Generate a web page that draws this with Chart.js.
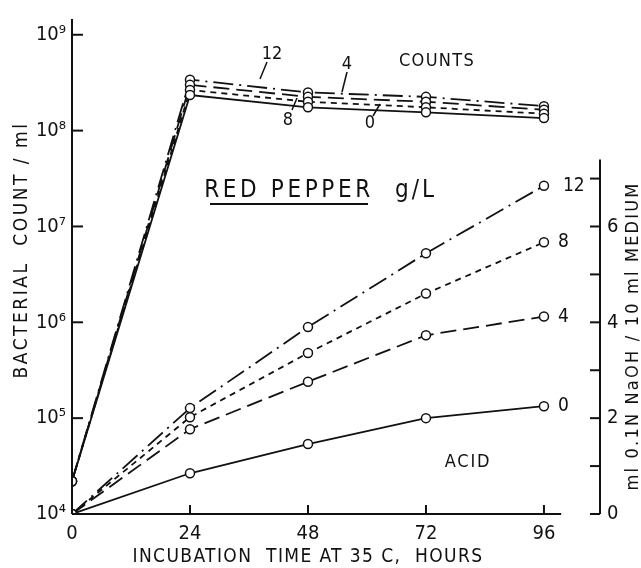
<!DOCTYPE html>
<html>
<head>
<meta charset="utf-8">
<script src="https://cdn.jsdelivr.net/npm/chart.js@4.4.1/dist/chart.umd.min.js"></script>
<style>
  html, body { margin: 0; padding: 0; background: #fff; }
</style>
</head>
<body>
<canvas id="pepperChart" width="641" height="568"></canvas>
<script>
// hours of incubation
var hours = [0, 24, 48, 72, 96];
var hourTicks = [0, 24, 48, 72, 96];

// bacterial counts per ml (left, log axis), one list per red pepper dose g/L
var counts0 = [2.2e4, 2.35e8, 1.75e8, 1.55e8, 1.35e8];
var counts4 = [2.2e4, 3.0e8, 2.25e8, 2.0e8, 1.65e8];
var counts8 = [2.2e4, 2.65e8, 2.0e8, 1.75e8, 1.5e8];
var counts12 = [2.2e4, 3.4e8, 2.5e8, 2.25e8, 1.8e8];

// acid, ml 0.1N NaOH / 10 ml medium (right axis)
var acid0 = [0, 0.85, 1.46, 2.0, 2.25];
var acid4 = [0, 1.77, 2.76, 3.73, 4.12];
var acid8 = [0, 2.02, 3.36, 4.6, 5.67];
var acid12 = [0, 2.21, 3.9, 5.44, 6.85];

var countTicks = [1e4, 1e5, 1e6, 1e7, 1e8, 1e9];
var countTickLabels = ['10\u2074', '10\u2075', '10\u2076', '10\u2077', '10\u2078', '10\u2079'];
var acidTicks = [0, 1, 2, 3, 4, 5, 6, 7];
var acidTickLabels = ['0', '', '2', '', '4', '', '6', ''];

var FONT = "'Liberation Sans Narrow', 'DejaVu Sans Condensed', 'Liberation Sans', sans-serif";
var INK = '#111';

// line style per dose
var dashes = { '0': [], '4': [16, 7], '8': [6, 5], '12': [20, 6, 2, 6] };

function pts(values) {
    return hours.map(function (h, i) { return { x: h, y: values[i] }; });
}

function series(label, values, axis) {
    return {
        label: label,
        data: pts(values),
        yAxisID: axis,
        borderColor: INK,
        borderWidth: 1.8,
        borderDash: dashes[label],
        backgroundColor: '#fff',
        pointRadius: 4.5,
        pointBorderWidth: 1.5,
        pointBorderColor: INK,
        pointBackgroundColor: '#fff',
        tension: 0,
        fill: false
    };
}

function drawText(ctx, str, x, y, size, spacing, rot) {
    ctx.save();
    ctx.translate(x, y);
    if (rot) ctx.rotate(rot);
    ctx.font = size + 'px ' + FONT;
    ctx.letterSpacing = (spacing || 0) + 'px';
    ctx.textAlign = 'center';
    ctx.textBaseline = 'middle';
    ctx.fillText(str, 0, 0);
    ctx.restore();
}

function line(ctx, x1, y1, x2, y2) {
    ctx.beginPath();
    ctx.moveTo(x1, y1);
    ctx.lineTo(x2, y2);
    ctx.stroke();
}

// axes, inward ticks and lettering of the original figure
var paperPlugin = {
    id: 'paper',
    afterDraw: function (chart) {
        var ctx = chart.ctx;
        var xs = chart.scales.x, ys = chart.scales.y, ys2 = chart.scales.y2;
        var area = chart.chartArea;
        var x0 = xs.getPixelForValue(0);
        var yb = ys.getPixelForValue(1e4);
        var xr = area.right;

        ctx.save();
        ctx.strokeStyle = INK;
        ctx.fillStyle = INK;
        ctx.lineWidth = 2;

        // left axis
        line(ctx, x0, area.top, x0, yb);
        countTicks.forEach(function (v) {
            var p = ys.getPixelForValue(v);
            line(ctx, x0, p, x0 + 11, p);
        });
        // bottom axis
        line(ctx, x0, yb, xs.getPixelForValue(99.5), yb);
        hourTicks.forEach(function (v) {
            var p = xs.getPixelForValue(v);
            line(ctx, p, yb, p, yb - 9);
        });
        // right axis
        line(ctx, xr, ys2.getPixelForValue(7.4), xr, ys2.getPixelForValue(0));
        acidTicks.forEach(function (v) {
            var p = ys2.getPixelForValue(v);
            line(ctx, xr, p, xr - 10, p);
        });

        // axis titles
        drawText(ctx, 'BACTERIAL  COUNT / ml', 22, 250, 19, 2.5, -Math.PI / 2);
        drawText(ctx, 'ml 0.1N NaOH / 10 ml MEDIUM', 633, 336, 18, 2.2, -Math.PI / 2);
        drawText(ctx, 'INCUBATION  TIME AT 35 C,  HOURS', 308, 557, 19, 1.4, 0);

        // annotations
        drawText(ctx, 'COUNTS', 437, 61, 18, 1.3, 0);
        drawText(ctx, 'RED PEPPER', 289, 191, 24, 3.6, 0);
        drawText(ctx, 'g/L', 416, 191, 24, 3, 0);
        ctx.lineWidth = 2;
        line(ctx, 210, 204, 368, 204);
        drawText(ctx, 'ACID', 468, 462, 18, 1.8, 0);

        // dose labels on the count curves, with leader lines
        ctx.lineWidth = 1.5;
        drawText(ctx, '12', 272, 54, 18, 0, 0);
        line(ctx, 267, 62, 260, 79);
        drawText(ctx, '4', 347, 64, 18, 0, 0);
        line(ctx, 347, 72, 342, 92);
        drawText(ctx, '8', 288, 120, 18, 0, 0);
        line(ctx, 297, 98, 292, 110);
        drawText(ctx, '0', 370, 123, 18, 0, 0);
        line(ctx, 380, 104, 373, 116);

        // dose labels at the end of the acid curves
        var xe = xs.getPixelForValue(96);
        [['0', acid0], ['4', acid4], ['8', acid8], ['12', acid12]].forEach(function (d) {
            var y = ys2.getPixelForValue(d[1][4]);
            ctx.save();
            ctx.font = '19px ' + FONT;
            ctx.textAlign = 'left';
            ctx.textBaseline = 'middle';
            ctx.fillText(d[0], xe + (d[0] === '12' ? 19 : 14), y);
            ctx.restore();
        });

        ctx.restore();
    }
};

var ctx = document.getElementById('pepperChart').getContext('2d');

var pepperChart = new Chart(ctx, {
    type: 'line',
    data: {
        datasets: [
            series('0', counts0, 'y'),
            series('8', counts8, 'y'),
            series('4', counts4, 'y'),
            series('12', counts12, 'y'),
            series('0', acid0, 'y2'),
            series('4', acid4, 'y2'),
            series('8', acid8, 'y2'),
            series('12', acid12, 'y2')
        ]
    },
    options: {
        responsive: false,
        animation: false,
        layout: { padding: { top: 13, left: 0, right: 0, bottom: 0 } },
        plugins: {
            legend: { display: false },
            tooltip: { enabled: false }
        },
        scales: {
            x: {
                type: 'linear',
                min: 0,
                max: 107.4,
                grid: { display: false, drawTicks: false },
                border: { display: false },
                afterBuildTicks: function (s) {
                    s.ticks = hourTicks.map(function (v) { return { value: v }; });
                },
                afterFit: function (s) { s.height = 54; },
                ticks: {
                    padding: 8,
                    maxRotation: 0,
                    autoSkip: false,
                    color: INK,
                    font: { family: FONT, size: 20 }
                }
            },
            y: {
                type: 'logarithmic',
                position: 'left',
                min: 1e4,
                max: 1.46e9,
                grid: { display: false, drawTicks: false },
                border: { display: false },
                afterBuildTicks: function (s) {
                    s.ticks = countTicks.map(function (v) { return { value: v }; });
                },
                afterFit: function (s) { s.width = 72; },
                ticks: {
                    padding: 6,
                    autoSkip: false,
                    color: INK,
                    font: { family: FONT, size: 20 },
                    callback: function (v, i) { return countTickLabels[i]; }
                }
            },
            y2: {
                type: 'linear',
                position: 'right',
                min: 0,
                max: 10.33,
                grid: { display: false, drawTicks: false },
                border: { display: false },
                afterBuildTicks: function (s) {
                    s.ticks = acidTicks.map(function (v) { return { value: v }; });
                },
                afterFit: function (s) { s.width = 41; },
                ticks: {
                    padding: 7,
                    autoSkip: false,
                    color: INK,
                    font: { family: FONT, size: 20 },
                    callback: function (v, i) { return acidTickLabels[i]; }
                }
            }
        }
    },
    plugins: [paperPlugin]
});
</script>
</body>
</html>
